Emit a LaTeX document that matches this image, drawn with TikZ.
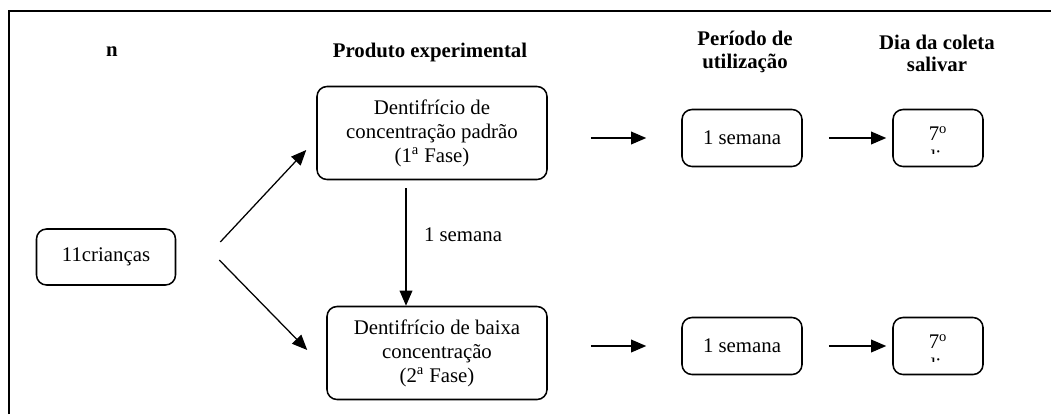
\documentclass[tikz,border=0pt]{standalone}
\usepackage{fontspec}
\setmainfont{Liberation Serif}
\usetikzlibrary{arrows.meta}

\tikzset{
  caixa/.style={draw, rectangle, rounded corners=0.25cm, line width=1.1pt, align=center, font=\fontsize{14.8}{17}\selectfont},
  titulo/.style={align=center, font=\fontsize{14.8}{16}\selectfont\bfseries},
  rotulo/.style={font=\fontsize{14.8}{17}\selectfont, inner sep=0pt},
  seta/.style={-{Triangle[length=0.38cm,width=0.32cm]}, line width=0.9pt},
}

\begin{document}
\begin{tikzpicture}
        \useasboundingbox (0,0) rectangle (26.275,-10.35);

        % Moldura
        \draw[line width=2.1pt] (0.225,-10.35) -- (0.225,-0.275) -- (26.275,-0.275);

        % Titulos
        \node[titulo] (tn) at (2.8,-1.3) {n};
        \node[titulo] (tproduto) at (10.75,-1.3) {Produto experimental};
        \node[titulo] (tperiodo) at (18.625,-1.3) {Período de\\utilização};
        \node[titulo] (tdia) at (23.425,-1.33) {Dia da coleta\\salivar};

        % Criancas
        \node[caixa, minimum width=3.475cm, minimum height=1.4cm] (criancas) at (2.65,-6.425) {11crianças};

        % Dentifricios
        \node[caixa, minimum width=5.75cm, minimum height=2.325cm] (padrao) at (10.8,-3.325) {Dentifrício de\\concentração padrão\\(1\textsuperscript{a} Fase)};
        \node[caixa, minimum width=5.5cm, minimum height=2.325cm] (baixa) at (10.925,-8.825) {Dentifrício de baixa\\concentração\\(2\textsuperscript{a} Fase)};

        % Periodo de utilizacao
        \node[caixa, minimum width=3cm, minimum height=1.425cm] (sem1) at (18.55,-3.45) {1 semana};
        \node[caixa, minimum width=3cm, minimum height=1.425cm] (sem2) at (18.55,-8.65) {1 semana};

        % Dia da coleta
        \node[caixa, minimum width=2.25cm, minimum height=1.425cm] (dia1) at (23.45,-3.45) {};
        \node[caixa, minimum width=2.25cm, minimum height=1.425cm] (dia2) at (23.45,-8.65) {};
        \node[rotulo, anchor=base] (dia1a) at ([yshift=-0.8cm]dia1.north) {7\textsuperscript{o}};
        \node[rotulo, anchor=base] (dia2a) at ([yshift=-0.8cm]dia2.north) {7\textsuperscript{o}};
        \begin{scope}
          \clip ([xshift=0.1cm]dia1.north west) rectangle ([xshift=-0.1cm,yshift=-1.125cm]dia1.north east);
          \node[rotulo, anchor=base] (dia1b) at ([yshift=-1.4cm]dia1.north) {dia};
        \end{scope}
        \begin{scope}
          \clip ([xshift=0.1cm]dia2.north west) rectangle ([xshift=-0.1cm,yshift=-1.125cm]dia2.north east);
          \node[rotulo, anchor=base] (dia2b) at ([yshift=-1.4cm]dia2.north) {dia};
        \end{scope}

        % Setas
        \draw[seta] ([xshift=1.1cm,yshift=0.375cm]criancas.east) -- ([xshift=-0.25cm,yshift=-0.425cm]padrao.west);
        \draw[seta] ([xshift=1.075cm,yshift=-0.075cm]criancas.east) -- ([xshift=-0.475cm,yshift=0.075cm]baixa.west);
        \coordinate (v) at ([xshift=-0.65cm,yshift=-0.2cm]padrao.south);
        \draw[seta] (v) -- (v |- baixa.north);
        \node[rotulo] (intervalo) at (11.575,-5.875) {1 semana};
        \draw[seta, shorten <=1.075cm, shorten >=0.875cm] (padrao.east |- sem1.west) -- (sem1.west);
        \draw[seta, shorten <=0.65cm, shorten >=0.15cm] (sem1.east) -- (dia1.west);
        \draw[seta, shorten <=1.075cm, shorten >=0.875cm] (baixa.east |- sem2.west) -- (sem2.west);
        \draw[seta, shorten <=0.65cm, shorten >=0.15cm] (sem2.east) -- (dia2.west);
\end{tikzpicture}
\end{document}
